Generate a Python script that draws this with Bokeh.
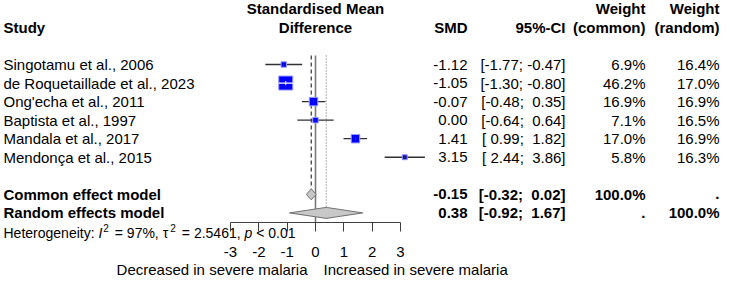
import math
from bokeh.plotting import figure
from bokeh.models import ColumnDataSource, Range1d, LinearAxis, FixedTicker
from bokeh.embed import file_html
from bokeh.resources import INLINE
from bokeh.core.properties import value

# ---------------- data ----------------
studies = ["Singotamu et al., 2006", "de Roquetaillade et al., 2023", "Ong'echa et al., 2011",
           "Baptista et al., 1997", "Mandala et al., 2017", "Mendonça et al., 2015"]
smd = [-1.12, -1.05, -0.07, 0.00, 1.41, 3.15]
ci_lower = [-1.77, -1.30, -0.48, -0.64, 0.99, 2.44]
ci_upper = [-0.47, -0.80, 0.35, 0.64, 1.82, 3.86]
weight_common = [6.9, 46.2, 16.9, 7.1, 17.0, 5.8]
weight_random = [16.4, 17.0, 16.9, 16.5, 16.9, 16.3]

summary_names = ["Common effect model", "Random effects model"]
summary_est = [-0.15, 0.38]
summary_lower = [-0.32, -0.92]
summary_upper = [0.02, 1.67]
summary_wc = ["100.0%", "."]
summary_wr = [".", "100.0%"]

axis_ticks = [-3, -2, -1, 0, 1, 2, 3]
i2_text = "97%"
tau2_text = "2.5461"
p_text = "< 0.01"
label_left = "Decreased in severe malaria"
label_right = "Increased in severe malaria"

# ---------------- layout helpers ----------------
FONT = "Liberation Sans"
FS = "15px"
PX_PER_UNIT = 170 / 6.0
X0_PX = 315.0
ROW1_PX = 64.0
ROW_PX = 18.55
W_PX, H_PX = 730, 285
AXIS_PX = 222


def dx(px):
    return (px - X0_PX) / PX_PER_UNIT


def ry(py):
    return 1 + (py - ROW1_PX) / ROW_PX


def fmt(v):
    return f"{v:5.2f}".replace(" ", "\u00a0")


# approximate Arial / Liberation Sans advance widths (per 1000 em)
_AW = {" ": 278, "H": 722, "e": 556, "t": 278, "r": 333, "o": 556, "g": 556, "n": 556, "i": 222,
       "y": 500, ":": 278, "I": 278, "=": 584, "%": 889, ",": 278, ".": 278, "p": 556, "<": 584,
       "\u03c4": 480}


def text_w(s, size):
    return sum(_AW.get(c, 556) for c in s) * size / 1000.0


p = figure(frame_width=W_PX, frame_height=H_PX, output_backend="svg", toolbar_location=None,
           x_range=Range1d(dx(0), dx(W_PX)), y_range=Range1d(ry(H_PX), ry(0)),
           x_axis_type=None, y_axis_type=None,
           min_border_left=0, min_border_right=0, min_border_top=0, min_border_bottom=0)
p.outline_line_color = None
p.grid.visible = False
p.background_fill_color = "white"
p.border_fill_color = "white"

n = len(studies)
rows = list(range(1, n + 1))
sum_rows = [n + 2, n + 3]

# ---------------- reference lines ----------------
top_row = ry(55)
diamond_h = 5.5 / ROW_PX
p.segment(x0=[0], y0=[top_row], x1=[0], y1=[ry(AXIS_PX)], line_color="#7a7a7a", line_width=1.6)
p.segment(x0=[summary_est[0]], y0=[top_row], x1=[summary_est[0]], y1=[sum_rows[0] - diamond_h],
          line_color="#303030", line_width=1.2, line_dash="4 3")
p.segment(x0=[summary_est[1]], y0=[top_row], x1=[summary_est[1]], y1=[sum_rows[1] - diamond_h],
          line_color="#808080", line_width=1.2, line_dash="1 2")

# ---------------- study squares + CIs ----------------
sizes = [2.06 * math.sqrt(w) for w in weight_common]
inside = [(hi - lo) * PX_PER_UNIT < s + 1 for lo, hi, s in zip(ci_lower, ci_upper, sizes)]
ci_colors = ["white" if i else "#303030" for i in inside]
src = ColumnDataSource(dict(y=rows, est=smd, lo=ci_lower, hi=ci_upper, size=sizes, cc=ci_colors))
p.segment(x0="lo", y0="y", x1="hi", y1="y", source=src, line_color="#303030", line_width=1.3)
p.scatter(x="est", y="y", size="size", marker="square", source=src,
          fill_color="#0000ff", line_color="#9a9aff", line_width=1)
src_in = ColumnDataSource(dict(y=[r for r, i in zip(rows, inside) if i],
                               lo=[l for l, i in zip(ci_lower, inside) if i],
                               hi=[h for h, i in zip(ci_upper, inside) if i]))
p.segment(x0="lo", y0="y", x1="hi", y1="y", source=src_in, line_color="white", line_width=1.2)
p.scatter(x="est", y="y", size=4, marker="dash", angle=math.pi / 2, source=src,
          line_color="cc", line_width=1)

# ---------------- diamonds ----------------
xs = [[lo, est, hi, est] for lo, est, hi in zip(summary_lower, summary_est, summary_upper)]
ys = [[r, r - diamond_h, r, r + diamond_h] for r in sum_rows]
p.patches(xs=xs, ys=ys, fill_color="#c8c8c8", line_color="#707070", line_width=1)

# ---------------- text columns ----------------
X_STUDY = dx(3)
X_SMD = dx(467)
X_CI = dx(565)
X_WC = dx(645)
X_WR = dx(719)


def txt(x, y, t, align="left", bold=False, size=FS, style=None, baseline="middle"):
    p.text(x=x, y=y, text=t, text_align=align, text_baseline=baseline,
           text_font=value(FONT), text_font_size=size, text_color="black",
           text_font_style=style if style else ("bold" if bold else "normal"))


# headers
txt([X_STUDY], [-1], ["Study"], bold=True)
txt([0, 0], [-2, -1], ["Standardised Mean", "Difference"], align="center", bold=True)
txt([X_SMD], [-1], ["SMD"], align="right", bold=True)
txt([X_CI], [-1], ["95%-CI"], align="right", bold=True)
txt([X_WC, X_WC], [-2, -1], ["Weight", "(common)"], align="right", bold=True)
txt([X_WR, X_WR], [-2, -1], ["Weight", "(random)"], align="right", bold=True)

# studies
txt([X_STUDY] * n, rows, studies)
txt([X_SMD] * n, rows, [f"{v:.2f}" for v in smd], align="right")
txt([X_CI] * n, rows, [f"[{fmt(lo)}; {fmt(hi)}]" for lo, hi in zip(ci_lower, ci_upper)], align="right")
txt([X_WC] * n, rows, [f"{w:.1f}%" for w in weight_common], align="right")
txt([X_WR] * n, rows, [f"{w:.1f}%" for w in weight_random], align="right")

# summaries
txt([X_STUDY] * 2, sum_rows, summary_names, bold=True)
txt([X_SMD] * 2, sum_rows, [f"{v:.2f}" for v in summary_est], align="right", bold=True)
txt([X_CI] * 2, sum_rows, [f"[{fmt(lo)}; {fmt(hi)}]" for lo, hi in zip(summary_lower, summary_upper)],
    align="right", bold=True)
txt([X_WC] * 2, sum_rows, summary_wc, align="right", bold=True)
txt([X_WR] * 2, sum_rows, summary_wr, align="right", bold=True)

# heterogeneity line, built from pieces (italic symbols, superscripts)
HET_SIZE = 14
SUP_SIZE = 10
het_mid_px = 232.5
pieces = [("Heterogeneity: ", "normal", False), ("I", "italic", False), ("2", "normal", True),
          (f" = {i2_text}, ", "normal", False), ("\u03c4", "normal", False), ("2", "normal", True),
          (f" = {tau2_text}, ", "normal", False), ("p", "italic", False), (f" {p_text}", "normal", False)]
cur = 3.0
for s, style, sup in pieces:
    size = SUP_SIZE if sup else HET_SIZE
    ypx = het_mid_px - 5 if sup else het_mid_px
    txt([dx(cur + (1 if sup else 0))], [ry(ypx)], [s.replace(" ", "\u00a0")],
        size=f"{size}px", style=style)
    cur += text_w(s, size) + (3 if sup else 0)

txt([dx(307)], [ry(269)], [label_left], align="right")
txt([dx(323)], [ry(269)], [label_right], align="left")

# ---------------- axis ----------------
ax = LinearAxis(ticker=FixedTicker(ticks=axis_ticks), bounds=(axis_ticks[0], axis_ticks[-1]),
                fixed_location=ry(AXIS_PX))
ax.major_label_overrides = {t: str(t) for t in axis_ticks}
ax.major_tick_in = 0
ax.major_tick_out = 9
ax.minor_tick_line_color = None
ax.axis_line_color = "#404040"
ax.major_tick_line_color = "#404040"
ax.major_label_text_font = FONT
ax.major_label_text_font_size = FS
ax.major_label_text_color = "black"
ax.major_label_standoff = 15
p.add_layout(ax, "below")

open("out.html", "w").write(file_html(p, INLINE))
